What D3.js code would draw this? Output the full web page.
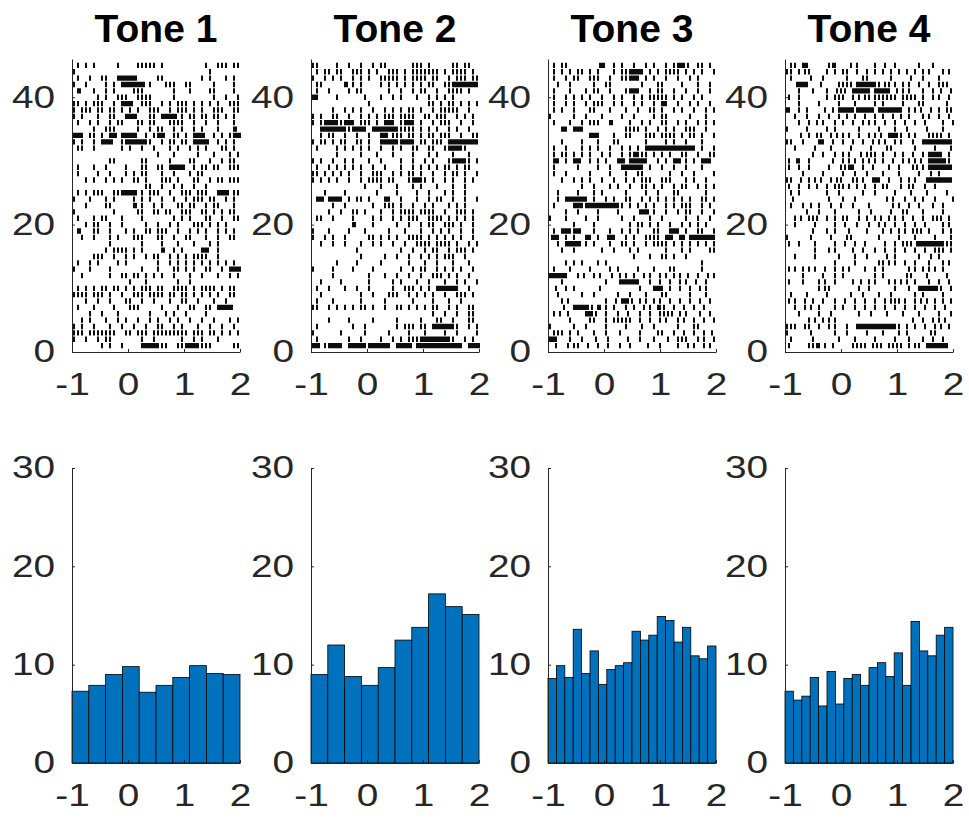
<html>
    <head>
        <meta charset="utf-8">
        <title>Tone rasters</title>
        <script src="https://d3js.org/d3.v7.min.js"></script>
        <style>
        body { margin: 0; background: white; }
        .axis .domain, .axis line { stroke: #262626; stroke-width: 1; }
        .axis text { font-family: "Liberation Sans", Arial, sans-serif; font-size: 31px; fill: #262626; }
        .title { font-family: "Liberation Sans", Arial, sans-serif; font-size: 39px; font-weight: bold; fill: #000; }
        </style>
    </head>
    <body>
        <svg id="figure" width="969" height="821" style="background: white;"></svg>
        <script>

            const toneNames = ["Tone 1", "Tone 2", "Tone 3", "Tone 4"];
            const timeTicks = [-1, 0, 1, 2];
            const rasterTicks = [0, 20, 40];
            const histTicks = [0, 10, 20, 30];

            // histogram heights, one value per bin from -1 to 2
            const hist1 = [7.3, 7.9, 9.0, 9.8, 7.2, 7.9, 8.7, 9.9, 9.1, 9.0];
            const hist2 = [9.0, 12.0, 8.8, 7.9, 9.7, 12.5, 13.8, 17.2, 15.9, 15.1];
            const hist3 = [8.6, 9.9, 8.7, 13.6, 9.1, 11.4, 8.0, 9.5, 9.9, 10.2, 13.4, 12.5, 13.0, 14.9, 14.5, 12.3, 13.8, 10.9, 10.6, 11.9];
            const hist4 = [7.3, 6.4, 6.8, 8.7, 5.8, 9.3, 6.0, 8.6, 9.0, 7.9, 9.7, 10.2, 8.8, 11.2, 7.9, 14.4, 11.4, 10.9, 13.0, 13.8];

            // rasters: one row per trial, top trial first
            // values are time bins of 1/14 s counted from -1 (x.5 = second spike in a burst)
            const raster1 = [
                [1,3,5,11,16,17,18,19,20,22,33,36,37,38,40,41],
                [0,34],
                [1,4,7,8,11,11.5,12,12.5,13,13.5,14,14.5,15,15.5,21,22,32,34,38,40],
                [0,3,8,10,12,12.5,13,13.5,14,14.5,15,15.5,16,16.5,17,17.5,19,23,24,25,28,29,35,40],
                [1,1.5,5,8,10,15,16,17,25,29,34,35,40],
                [6,8,11,12,13,16,17,18,19,25,35,38,41],
                [0,1,3,5,6,7,10,12,12.5,13,13.5,14,14.5,17,18,19,22,24,26,27,28,30,32,34,36,39,40,41],
                [0,2,3,4,6,7,9,10,12,14,16,19,20,21,24,26,27,28,30,32,35,36,37,40,41],
                [0,2,6,9,10,13,13.5,14,14.5,15,15.5,19,20,22,22.5,23,23.5,24,24.5,25,25.5,27,29,30,32,33,35,36,38,40],
                [1,4,6,9,11,12,16,17,19,20,24,25,26,27,30,33,36,40],
                [5,8,9,10,16,19,21,22,25,27,30,32,36,40,40.5],
                [0,0.5,1,1.5,2,4,5,7,9,9.5,10,10.5,12,12.5,13,13.5,14,14.5,15,15.5,18,20,21,21.5,22,22.5,25,26,28,30,30.5,31,31.5,32,32.5,35,37,39,40,40.5,41,41.5],
                [0,2,5,7,7.5,8,8.5,9,9.5,12,13,13.5,14,14.5,15,15.5,16,16.5,17,17.5,18,19,22,24,25,27,28,30,30.5,31,31.5,32,32.5,33,33.5,36,38,40],
                [1,2,5,12,14,17,20,24,26,29,31,33,37,38,40],
                [21,25,31,35,39,41],
                [9,10,17,18,24,29,30,34,37,39,40],
                [1,5,8,13,17,18,21,22,24,24.5,25,25.5,26,26.5,27,27.5,30,32,33,35,36,39,40,41],
                [1,6,9,13,15,17,18,22,25,29,31,32],
                [3,5,8,10,12,15,16,18,22,23,24,26,30,31,34,36,37,39,40,41],
                [18,19,22,25,27,30,33],
                [1,3,5,6,7,10,11,12,12.5,13,13.5,14,14.5,15,15.5,17,19,20,21,24,27,28,29,31,32,33,36,36.5,37,37.5,38,38.5,40,41],
                [0,4,8,10,15,17,19,22,25,28,30,31,32,34,35,38,40],
                [3,8,9,15,15.5,17,20,22,26,27,29,30,33,35,36,40],
                [0,10,16,17,20,21,23,24,27,28,29,32,33,35,37,39,40],
                [1,5,7,8,12,17,25,27,29,33,34,37,40,41],
                [3,5,6,9,12,18,21,24,26,30,31,32,34,36,38],
                [1,1.5,5,6,9,13,15,18,19,21,22,23,26,29,31,33,36,38,40],
                [2,5,9,11,15,16,17,21,22,25,28,29,33,36,39,40],
                [9,17,22,26,30,34,36],
                [8,10,11,12,13,15,17,22,22.5,25,27,32,32.5,33,33.5,36],
                [5,6,7,10,13,15,18,20,21,24,26,28,30,31,32,33,36],
                [1,4,6,11,13,21,24,26,28,30,32,34,36,38,40],
                [0,4,9,17,21,25,26,28,30,33,34,37,39,39.5,40,40.5,41,41.5],
                [2,9,12,13,15,16,18,20,22,25,29,32,36,39,41],
                [14,18,26,29],
                [1,3,5,7,8,10,11,13,15,17,18,19,21,22,25,26,27,28,30,32,33,34,35,37,39,40],
                [0,1,2,3,5,6,7,9,12,15,16,17,19,20,21,22,24,25,27,28,30,32,34,36,39,40],
                [3,6,9,13,14,17,20,24,27,28,31,35,38],
                [1,5,10,14,15,16,22,26,29,30,33,34,36,36.5,37,37.5,38,38.5,39,39.5],
                [4,7,11,19,23,25,28,33],
                [2,4,8,11,13,16,19,21,24,26,29,32,35,39,41],
                [0,2,5,9,12,15,18,21,22,25,27,31,34,37,40],
                [0,1,2,4,5,6,7,8,9,10,13,14,16,17,18,20,21,22,23,24,25,26,27,28,30,31,32,34,35,37,39,41],
                [0,3,6,8,9,17,20,27,30,32,36],
                [7,9,12,17,17.5,18,18.5,19,19.5,20,20.5,21,22,23,26,27,28,28.5,29,29.5,30,30.5,31,32,33,34,40,41]
            ];

            const raster2 = [
                [0,1,6,9,12,15,17,18,25,26,27,29,35,36,38,39],
                [1,3,4,6,7,10,11,12,14,16,19,20,21,23,25,26,27,28,29,30,31,33,35,36,37,38,40],
                [0,3,5,7,10,12,14,17,18,19,20,21,23,25,26,27,28,30,31,34,36,37,38,40,41],
                [1,2,8,8.5,10,12,17,19,21,23,25,27,29,30,33,34,35,35.5,36,36.5,37,37.5,38,38.5,39,39.5,40,40.5,41],
                [1,4,9,11,12,19,22,25,27,28,31,34,35,36,37,39],
                [0,0.5,1,6,13,17,20,22,26,29,31,33,35],
                [14,29,30,32,34,35,37,39,41],
                [5,8,10,12,15,18,20,22,24,25,27,30,32,33,34,35,36,39],
                [0,2,5,6,9,12,14,16,18,19,20,22,23,24,25,28,29,31,32,33,36,38,40],
                [0,2,3,3.5,4,4.5,5,5.5,6,7,8,8.5,9,9.5,10,12,13,14,16,18,18.5,19,19.5,20,22,23,23.5,24,24.5,25,27,30,32,33,34,37,40],
                [2,2.5,3,3.5,4,4.5,5,5.5,6,6.5,7,7.5,8,9,10,10.5,11,11.5,12,12.5,13,15,15.5,16,16.5,17,17.5,18,18.5,19,19.5,20,20.5,21,22,23,24,25,27,29,31,34,36,39],
                [2,4,5,8,11,14,17,17.5,18,18.5,20,21,22,24,25,27,29,30,32,33,34,37,40,41],
                [0,2,3,5,7,8,11,12,14,17,17.5,18,18.5,19,19.5,20,20.5,21,22,22.5,23,23.5,24,24.5,25,27,28,30,31,32,34,34.5,35,35.5,36,36.5,37,37.5,38,38.5,39,39.5,40,40.5,41],
                [1,6,8,10,12,14,17,20,22,25,26,29,30,33,34,34.5,35,35.5,36,36.5,37,38],
                [6,12,16,20,25,29,31,35,39],
                [0,2,5,8,10,14,17,22,25,28,30,34,35,35.5,36,36.5,37,37.5,38,39,41],
                [1,4,6,8,10,12,15,18,22,25,27,29,31,33,34,36,38,39],
                [0,1,3,5,7,9,12,15,16,17,20,22,24,25,27,30,33,35,36,38,41],
                [0,2,4,6,9,12,14,15,16,17,19,20,24,25,25.5,26,26.5,27,28,30,33,35,38,40],
                [13,17,21,25,27,31,35,38],
                [3,8,16,21,26,29,33,35,38],
                [1,1.5,2,2.5,4,4.5,5,5.5,6,6.5,7,9,11,12,14,18,18.5,19,22,26,29,31,32,35,38,41],
                [5,8,15,18,19,20,22,25,28,30,34,36,38],
                [4,7,10,11,13,17,20,22,23,24,25,27,28,29,30,33,36,37,38,40],
                [1,2,5,10,15,17,20,22,24,25,26,29,30,31,32,34,36,38,40],
                [10,10.5,15,21,24,27,29,30,33,34,35,37,40],
                [0,4,9,13,19,23,27,30,32,34,37,40],
                [0,3,5,8,14,15,17,19,21,24,25,26,27,29,31,33,35,37,40],
                [2,5,8,12,15,17,20,23,26,27,28,29,31,32,33,34,36,39,41],
                [11,22,25,28,30,31,34,36,37,38,40],
                [12,18,21,24,27,29,31,33,34,35,38],
                [6,11,17,24,28,31,35,39],
                [0,5,10,15,22,25,27,28,31,33,35,37,40],
                [5,14,18,21,24,27,30,31,32,34,36,39],
                [2,7,14,20,22,26,29,33,36,38,41],
                [1,4,8,11,14,20,23,24,25,27,29,31,31.5,32,32.5,33,33.5,34,34.5,35,35.5,36,39],
                [2,12,15,19,20,21,24,26,28,30,33,36,37,38,40],
                [1,5,12,18,25,30,34,37],
                [0,1,4,6,8,10,12,13,15,18,21,22,24,26,28,30,31,34,36,39,40],
                [30,33,36,39,40],
                [4,9,15,21,27,31,32,35,39,40],
                [1,10,13,21,23,24,25,27,28,30,30.5,31,31.5,32,32.5,33,33.5,34,34.5,35,36,39,41],
                [0,7,13,19,24,28,33,36,41],
                [1,9,12,17,20,22,24,25,26,27,27.5,28,28.5,29,29.5,30,30.5,31,31.5,32,32.5,33,33.5,34,35,38,40],
                [0,0.5,1,1.5,3,4,4.5,5,5.5,6,6.5,7,9,9.5,10,10.5,11,11.5,12,12.5,13,14,14.5,15,15.5,16,16.5,17,17.5,18,18.5,19,21,21.5,22,22.5,23,23.5,24,24.5,26,26.5,27,27.5,28,28.5,29,29.5,30,30.5,31,31.5,32,32.5,33,33.5,34,34.5,35,35.5,36,36.5,37,39,39.5,40,40.5,41,41.5]
            ];

            const raster3 = [
                [1,3,4,12.5,13,13.5,16,18,21,24,26,29,31,32,32.5,33,33.5,34.5,37,38,40],
                [1,3,5,7,8,10,12,16,18,19,20,20.5,21,21.5,22,22.5,23,25,27,29,30,31,32,34,36,38,41],
                [1,4,6,7,10,11,12,15,18,19,20,20.5,21,21.5,22,24,26,29,32,35,37],
                [2,5,11,14,15,23,27,28,33,37,40],
                [1,5,9,11,12,15,19,20,20.5,21,21.5,22,25,27,28,31,34,37,40],
                [1,4,6,8,10,13,16,18,21,23,25,26,27,28,29,31,33,36,38],
                [1,4,6,9,11,12,13,16,18,21,23,26,28,28.5,29,32,35,37,40],
                [1,3,6,10,11,15,19,22,25,26,28,31,33,36,39,41],
                [0,6,9,13,18,21,26,28,29,35,39],
                [1,5,8,10,11,12,15,15.5,20,23,25,28,29,32,34,37,39,41],
                [3,3.5,4,6,6.5,7,7.5,8,19,20,21,22,24,27,29,31,34,35,36,39],
                [10,10.5,11,11.5,12,16,19,20,24,25,26,28,29,30,31,33,35,36,38,41],
                [3,8,12,16,17,24,29,31,34,38],
                [1,4,8,10,12,15,18,20,22,24,24.5,25,25.5,26,26.5,27,27.5,28,28.5,29,29.5,30,30.5,31,31.5,32,32.5,33,33.5,34,34.5,35,35.5,36,38,41],
                [1,3,4,6,8,10,13,15,18,20,21,21.5,22,23,24,26,28,30,33,34,37,40,41],
                [1,1.5,2,4,6,6.5,7,7.5,10,12,14,17,17.5,18,18.5,20,20.5,21,21.5,22,22.5,23,23.5,24,27,29,31,31.5,32,32.5,34,36,38,38.5,39,39.5,40],
                [1,7,12,15,18,18.5,19,19.5,20,20.5,21,21.5,22,22.5,23,25,28,31,34,38],
                [1,4,10,15,19,22,23,30,33,36,41],
                [3,6,8,10,13,16,19,21,23,24,25,28,29,30,34,36,39],
                [8,11,15,17,20,23,24,26,28,31,33,34,37,39,41],
                [2,7,11,13,19,24,27,31,32,39],
                [2,4,4.5,5,5.5,6,6.5,7,7.5,8,8.5,9,11,14,16,19,20,23,25,27,29,31,33,35,38,39,41],
                [1,6,6.5,7,7.5,8,9,9.5,10,10.5,11,11.5,12,12.5,13,13.5,14,14.5,15,15.5,16,16.5,17,18,20,22,24,26,29,31,33,34,35,38,40],
                [4,7,12,17,22.5,23,23.5,24,24.5,26,29,32,34,35,38,41],
                [0,4,9,12,18,21,25,28,34,37,40],
                [6,11,20,22,23,25,27,30,33,35,37,39],
                [1,3,3.5,4,4.5,5,6,6.5,7,7.5,11,15,18,20,22,26,27,30,30.5,31,31.5,32,34,37,38,41],
                [0.5,1,1.5,2,4,6,9,9.5,10,12,14.5,15,15.5,16,19,21,24,25,26,27,29,29.5,30,30.5,32.5,33,33.5,35,35.5,36,36.5,37,37.5,38,38.5,39,39.5,40,40.5,41],
                [2,4,4.5,5,5.5,6,6.5,7,7.5,9,11,15,18,19,21,24,26,27,28,29,31,33,35,37,39,41],
                [3,6,13,16,20,22,29,33,35,40,41],
                [21,25,28,29,31,34],
                [4,6,8,12,14,38],
                [1,5,10,15,17,22,26,30,31,38],
                [0,0.5,1,1.5,2,2.5,3,3.5,4,7,8.5,11,12.5,15.5,17.5,19,21,23.5,25,27.5,29,31,32.5,34.5,37,39.5,41],
                [3,14,17.5,18,18.5,19,19.5,20,20.5,21,21.5,22,25,27.5,30,32.5,34,36.5,39],
                [1.5,4,6,12.5,22.5,26,26.5,27,27.5,28,30,32.5,35,37.5,39],
                [2,8,11,17,20,24,28,29,35,39],
                [3,4.5,14,16.5,18,18.5,19,19.5,20.5,22.5,24,26,27.5,30,32.5,35,37.5,40],
                [3.5,6,6.5,7,7.5,8,8.5,9,9.5,10.5,12,12.5,14,16,19,21,23.5,25,27,27.5,28.5,31,33.5,36,38.5],
                [1,2.5,4.5,9,9.5,10,10.5,11.5,14,17,19.5,22.5,25,27.5,28.5,29.5,30.5,32.5,34,37.5,40],
                [5,10,11,14,16,17,18,19,20,22.5,25,27.5,29,32,33.5,36,38.5,41],
                [0,6,9,14,19,23,26,32,36,37],
                [1,2,3,5,7,11,14,17.5,22.5,27,28,31,33.5,36,38.5,40.5],
                [0,0.5,1,1.5,5,8,11.5,14.5,19.5,22.5,26,29.5,32,33,34,37,38.5,41],
                [1.5,4.5,6,7,9.5,12,14.5,17.5,20,24.5,27.5,32,34.5,36,38.5,40]
            ];

            const raster4 = [
                [1,2,4,4.5,5,10.5,11.5,12,16,17.5,22,24.5,27,33,36.5],
                [0,1,3,4.5,5.5,10,12,14,15,17.5,20,22,24,26,28,30,32,34,35.5,39,40.5],
                [1,6,9,15,19,20,26,31,34,38],
                [2.5,3,3.5,4,4.5,5,8.5,13,14,15,16,17.5,18,18.5,19,19.5,20,20.5,21,21.5,22,23,24.5,25.5,27,29,30.5,33,35.5,38,39,40],
                [3,6.5,10,12.5,13.5,14.5,16.5,17,17.5,18,18.5,19,19.5,20,20.5,22,22.5,23,23.5,24,24.5,25,25.5,27.5,29,30.5,34,36.5,38.5,41],
                [0.5,3,10,12,13,14,16.5,18,19.5,20.5,22,23,24,25,26,27,29,30,31,32,34,36.5,38,40.5],
                [3,8,13,17,22,24,29,33,34,40],
                [0,0.5,3,5,9.5,11.5,13,13.5,14,14.5,15,15.5,16,16.5,17.5,18,18.5,19,19.5,20,20.5,21,21.5,23,23.5,24,24.5,25,25.5,26,26.5,27,27.5,28,28.5,30.5,32,33.5,36,38,40,41],
                [2,5,8,10.5,13,15,17,19.5,22,24,26.5,28.5,30.5,34,35.5,38,40.5],
                [3,5.5,7.5,9,12,14,16.5,19,20.5,22,24.5,27,29.5,32,34.5,39,41.5],
                [0,5,10,12,18,23,27,30,35,39],
                [3.5,5.5,7.5,8.5,11,12.5,14,15.5,18,20.5,22,23.5,25.5,26,26.5,27,27.5,28.5,30.5,32,35.5,36.5,37.5,38.5,40.5],
                [0,1,4,8,8.5,9,11.5,14,16.5,19,21.5,23,24.5,27,28.5,31.5,34,34.5,35,35.5,36,36.5,37,37.5,38,38.5,39,39.5,40,40.5,41],
                [2,7,11,16,21,25,26,32,37,41],
                [6.5,9,12,14,15.5,18.5,20,21,22,24,27,29,31.5,34,35.5,36,36.5,37,37.5,38,38.5,40.5],
                [0.5,2.5,3,5.5,11.5,14,15.5,17,19,20.5,22,24,26.5,29,30.5,32,33.5,35.5,36,36.5,37,37.5,38,38.5,39,39.5,40.5],
                [0.5,3,5.5,10.5,13.5,14.5,15.5,16,16.5,19,21.5,25.5,28,31.5,32.5,34,35.5,36,36.5,37,37.5,38,38.5,39,39.5,40,40.5,41],
                [4,9,14,17,20,24,28,33,36,38],
                [0,1,3.5,5.5,7,8.5,11,12.5,13.5,16.5,17.5,19,21.5,22,22.5,23,25.5,28.5,30.5,32,35,35.5,36,36.5,37,37.5,38,38.5,39,39.5,40,40.5,41],
                [0.5,3,5.5,7.5,10,12,13,14,15.5,17.5,19.5,22,24,25,28.5,30.5,31.5,34.5,37],
                [1,3,10,13,19,22,27,31,35,40],
                [1.5,10.5,14,17,25,26.5,29.5,32,34,37,41.5],
                [1,4,6,8,11,13.5,16.5,20.5,26.5,28,30.5,33,36.5,39],
                [5,8,12,18,21,26,29,30,34,39],
                [2,3.5,5.5,6.5,7.5,10,12,14,15,18,20,22,23.5,25.5,27,29,31.5,34,36.5,37.5,38.5,40.5],
                [2,7,12,14.5,17.5,20.5,23,24.5,27,29.5,32,34.5,39,40.5],
                [6.5,10,12,15.5,20,24,26,28,29.5,31.5,32.5,33.5,35.5,39,41],
                [0,6,11,15,16,23,28,32,37,41],
                [0.5,3,7,12,14.5,17,19.5,24.5,27,29,30,31,32.5,33,33.5,34,34.5,35,35.5,36,36.5,37,37.5,38,38.5,39,40,41],
                [7,10.5,12,16.5,19,22,24.5,27,29.5,32,34.5,37,38,39,41],
                [2,7,13,17,20,25,27,33,36,38],
                [12,17,23,24,25.5,27,29.5,32,35.5,39,40.5],
                [0.5,2,4,5.5,7,9.5,12,14,15.5,19.5,22,24,30.5,32,34,35.5,37,39],
                [4,9,12,14,22,24,30,31,35,40],
                [0.5,4,8,9.5,12,16.5,18.5,20.5,22,25.5,27,28.5,30,32,35.5,38,40.5],
                [8,9.5,10.5,18,20.5,27,30.5,33,33.5,34,34.5,35,35.5,36,36.5,37,37.5,38.5,41],
                [1,5,10,16,19,23,26,32,34,39],
                [0.5,2,4.5,6.5,9,12,14.5,17,19.5,22,24.5,26,27,28,29.5,32,33.5,35,37,39,41],
                [2,4.5,6,8,12,14,17,19.5,22,24.5,27,29.5,32,34.5,37,39.5],
                [3,8,11,18,21,25,29,33,38,41],
                [5.5,7,9,10.5,12,31.5,34,36.5,38,39.5],
                [0,1,2,4.5,5.5,8,10.5,12,15,17.5,18,18.5,19,19.5,20,20.5,21,21.5,22,22.5,23,23.5,24,24.5,25,25.5,26,26.5,27,28,30,32,34.5,37,38.5,40.5],
                [0,6,12,15,20,24,28,30,36,37],
                [1,6.5,13,17,22,27,30.5,34,36.5,39],
                [0.5,5.5,6.5,7.5,8,9.5,11.5,16.5,17.5,18.5,19.5,21.5,22.5,23.5,25.5,26.5,27.5,28.5,30.5,32,33,35,35.5,36,36.5,37,37.5,38,38.5,39,39.5,40]
            ];

            const histData = [hist1, hist2, hist3, hist4];
            const rasterData = [raster1, raster2, raster3, raster4];

            const svg = d3.select("#figure");

            const panelLeft = [72, 311, 548, 785];
            const panelWidth = 168;
            const rasterTop = 59;
            const rasterHeight = 293;
            const histTop = 468;
            const histHeight = 295;
            const stretch = 1.25; // tick labels are wider than plain Arial

            const x = d3.scaleLinear().domain([-1, 2]).range([0, panelWidth]);
            const yRaster = d3.scaleLinear().domain([0, 46]).range([rasterHeight, 0]);
            const yHist = d3.scaleLinear().domain([0, 30]).range([histHeight, 0]);

            // bin index -> seconds
            const binTime = b => -1 + (b + 0.5) / 14;

            function bottomAxis(g, height) {
                g.attr("class", "axis")
                    .attr("transform", `translate(0,${height})`)
                    .call(d3.axisBottom(x).tickValues(timeTicks).tickFormat(d => String(d)) // plain hyphen, like the original
                        .tickSizeInner(-3).tickSizeOuter(0).tickPadding(21))
                g.selectAll("text").attr("transform", `scale(${stretch},1)`)
            }

            function leftAxis(g, scale, ticks) {
                g.attr("class", "axis")
                    .call(d3.axisLeft(scale).tickValues(ticks).tickFormat(d => String(d))
                        .tickSizeInner(-3).tickSizeOuter(0).tickPadding(17))
                g.selectAll("text")
                    .attr("x", 0)
                    .attr("transform", `translate(-17,0) scale(${stretch},1)`)
            }

            toneNames.forEach((name, k) => {

                // RASTER
                const rows = rasterData[k];
                const nTrials = rows.length;
                const spikes = rows.flatMap((row, i) => row.map(b => ({trial: nTrials - i, t: binTime(b)})));

                const raster = svg.append("g")
                    .attr("transform", `translate(${panelLeft[k]},${rasterTop})`);

                raster.selectAll("line.spike").data(spikes)
                    .join("line")
                    .attr("class", "spike")
                    .attr("x1", d => x(d.t))
                    .attr("x2", d => x(d.t))
                    .attr("y1", d => yRaster(d.trial - 0.42))
                    .attr("y2", d => yRaster(d.trial + 0.42))
                    .attr("stroke", "black")
                    .attr("stroke-width", 1.9);

                raster.append("g").call(g => bottomAxis(g, rasterHeight));
                raster.append("g").call(g => leftAxis(g, yRaster, rasterTicks));

                raster.append("text")
                    .attr("class", "title")
                    .attr("x", panelWidth / 2)
                    .attr("y", 42 - rasterTop)
                    .attr("text-anchor", "middle")
                    .text(name);

                // HISTOGRAM
                const values = histData[k];
                const binWidth = 3 / values.length;

                const hist = svg.append("g")
                    .attr("transform", `translate(${panelLeft[k]},${histTop})`);

                hist.selectAll("rect.bar").data(values)
                    .join("rect")
                    .attr("class", "bar")
                    .attr("x", (d, i) => x(-1 + i * binWidth))
                    .attr("width", (d, i) => x(-1 + (i + 1) * binWidth) - x(-1 + i * binWidth))
                    .attr("y", d => yHist(d))
                    .attr("height", d => histHeight - yHist(d))
                    .attr("fill", "#0072BD")
                    .attr("stroke", "black")
                    .attr("stroke-width", 0.8);

                hist.append("g").call(g => bottomAxis(g, histHeight));
                hist.append("g").call(g => leftAxis(g, yHist, histTicks));
            });

        </script>
    </body>
</html>
